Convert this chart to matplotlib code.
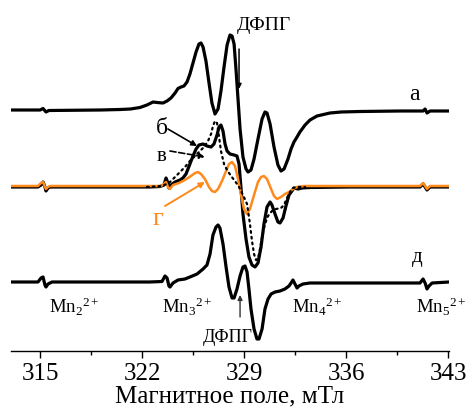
import matplotlib
matplotlib.use("Agg")
import matplotlib.pyplot as plt

plt.rcParams["font.family"] = ["Liberation Serif", "DejaVu Serif"]
plt.rcParams["mathtext.fontset"] = "custom"
plt.rcParams["mathtext.rm"] = "Liberation Serif"
plt.rcParams["mathtext.it"] = "Liberation Serif:italic"

# EPR spectra: magnetic field (mT) and derivative signal (arb. units, 1 unit = 1 px)
field_a = [313.0, 315.0, 315.2, 315.4, 315.6, 319.1, 320.5, 321.2, 321.85, 322.33,
           322.75, 323.02, 323.43, 323.71, 323.98, 324.26, 324.46, 324.67, 324.87, 325.08,
           325.28, 325.49, 325.70, 325.90, 326.04, 326.18, 326.38, 326.59, 326.79, 327.00,
           327.21, 327.41, 327.62, 327.83, 328.03, 328.17, 328.31, 328.44, 328.58, 328.72,
           328.92, 329.13, 329.27, 329.47, 329.68, 329.95, 330.23, 330.43, 330.57, 330.78,
           331.05, 331.32, 331.53, 331.74, 332.01, 332.22, 332.42, 332.63, 332.83, 333.18,
           333.52, 334.00, 334.89, 335.65, 336.96, 339.70, 341.28, 341.42, 341.55, 341.76,
           343.06]
signal_a = [0, 0, 1.5, -2, -0.5, 0, 0.5, 1, 2.5, 5,
            8, 7.5, 7, 9, 12, 17, 21.5, 23, 24, 28,
            36, 47, 58, 66, 67, 63, 49, 27, 7, -4,
            1, 19, 43, 65, 75, 74, 66, 41, 11, -19,
            -47, -59, -62, -60, -49, -29, -9, -2, -3, -14,
            -37, -55, -61, -59, -49, -39, -32, -27, -22, -15,
            -10, -6, -3, -2, -1.5, -1, -1, 1, -3, -1,
            -1]

curve_b = [(313.0, 0), (314.85, 0), (315.06, 2), (315.2, 5), (315.33, 0), (315.4, -4),
           (315.54, -1), (315.68, 0), (319.1, 0), (322.5, 0), (323.23, 0.5), (323.5, 2),
           (323.64, 9), (323.77, 4), (323.84, -1), (323.98, 2), (324.26, 5), (324.6, 7),
           (324.8, 9), (325.01, 13), (325.28, 23), (325.49, 31), (325.7, 38), (325.9, 42),
           (326.18, 43), (326.45, 41), (326.73, 40), (326.93, 43), (327.14, 52), (327.28, 60),
           (327.41, 62), (327.55, 56), (327.69, 43), (327.83, 36), (328.03, 33), (328.31, 32),
           (328.51, 31), (328.65, 23), (328.79, -2), (328.92, -27), (329.13, -52), (329.33, -70),
           (329.54, -78), (329.75, -80), (329.95, -76), (330.16, -60), (330.36, -37), (330.57, -20),
           (330.78, -15), (330.91, -18), (331.12, -27), (331.32, -35), (331.46, -36), (331.67, -31),
           (331.87, -19), (332.08, -8), (332.28, -4), (332.42, -1), (332.7, -2), (332.97, -1),
           (333.52, -0.5), (336.27, 0), (341.07, 0), (341.28, 3), (341.42, 0), (341.55, -3),
           (341.76, 0), (343.06, 0)]

curve_v = [(322.33, 0), (323.36, 1), (323.84, 4), (324.26, 10), (324.6, 15), (324.94, 20),
           (325.28, 26), (325.63, 31), (325.97, 36), (326.25, 40), (326.52, 46), (326.73, 53),
           (326.86, 61), (327.0, 66), (327.14, 64), (327.28, 50), (327.41, 36), (327.62, 23),
           (327.83, 17), (328.1, 11), (328.37, 6), (328.65, 0), (328.92, -8), (329.2, -17),
           (329.4, -37), (329.54, -54), (329.68, -67), (329.81, -73), (329.95, -72), (330.09, -62),
           (330.23, -50), (330.43, -37), (330.64, -29), (330.91, -24), (331.19, -22), (331.53, -21),
           (331.74, -18), (331.94, -11), (332.15, -5), (332.35, -1), (332.63, 0), (333.18, 0)]

curve_g = [(313.0, 0), (314.85, 0), (315.06, 3), (315.2, 4), (315.33, -1), (315.4, -3),
           (315.54, -1), (315.68, 0), (319.1, 0), (322.5, 0), (323.3, 0), (323.5, 2),
           (323.64, 4), (323.77, -1), (323.91, -3), (324.12, 1), (324.53, 3), (324.94, 6),
           (325.35, 10), (325.63, 13), (325.83, 14), (326.04, 12), (326.31, 7), (326.59, -1),
           (326.79, -5), (327.0, -6), (327.21, -3), (327.48, 5), (327.76, 15), (327.96, 22),
           (328.17, 24), (328.37, 20), (328.58, 7), (328.79, -9), (328.99, -23), (329.2, -28),
           (329.4, -23), (329.68, -9), (329.95, 4), (330.16, 9), (330.36, 10), (330.57, 7),
           (330.85, -3), (331.05, -10), (331.26, -13), (331.53, -11), (331.8, -8), (332.08, -6),
           (332.35, -3), (332.63, -1), (333.11, 0), (336.2, 0), (341.07, 0), (341.28, 3),
           (341.42, 0), (341.55, -3), (341.76, 0), (343.06, 0)]

curve_d = [(313.0, 0), (314.85, 0), (315.06, 4), (315.2, 5), (315.33, -3), (315.4, -5),
           (315.54, -2), (315.81, 0), (319.1, 0), (322.5, 0), (323.36, 0.5), (323.57, 6),
           (323.71, 4), (323.84, -4), (323.91, -5), (324.12, -1), (324.46, 2), (324.94, 3),
           (325.28, 5), (325.77, 8), (326.18, 13), (326.45, 17), (326.66, 28), (326.86, 47),
           (327.07, 55), (327.21, 57), (327.34, 54), (327.55, 38), (327.76, 15), (327.96, -5),
           (328.17, -16), (328.31, -16), (328.51, -7), (328.72, 6), (328.92, 15), (329.06, 16),
           (329.2, 10), (329.33, -7), (329.47, -27), (329.68, -47), (329.88, -57), (330.02, -57),
           (330.23, -47), (330.43, -27), (330.64, -17), (330.85, -12), (331.12, -10), (331.46, -9),
           (331.8, -7), (332.08, -4), (332.22, -1), (332.35, 2), (332.49, -2), (332.63, -6),
           (332.76, -4), (333.04, -2), (333.52, -1), (336.27, -1), (341.07, -1), (341.28, 3),
           (341.42, -1), (341.55, -7), (341.69, -4), (341.9, -1), (343.06, 0)]

# vertical offsets of the stacked spectra
offset_a = -111
offset_b = -188
offset_g = -187
offset_d = -283

field_ticks = [315, 322, 329, 336, 343]
mn_lines = ["2", "3", "4", "5"]
mn_label_x = [315.6, 323.36, 332.28, 340.8]
orange = "#FF8A1C"

fig = plt.figure(figsize=(4.68, 4.14), dpi=100)
ax = fig.add_axes([11 / 468, 62 / 414, 438 / 468, 352 / 414])
ax.set_xlim(313.0, 343.06)
ax.set_ylim(-352, 0)


def unpack(pairs):
    return [p[0] for p in pairs], [p[1] for p in pairs]


ax.plot(field_a, [v + offset_a for v in signal_a], color="black", lw=2.3,
        solid_joinstyle="round", solid_capstyle="round")
xb, yb = unpack(curve_b)
ax.plot(xb, [v + offset_b for v in yb], color="black", lw=2.3, solid_joinstyle="round")
xg, yg = unpack(curve_g)
ax.plot(xg, [v + offset_g for v in yg], color=orange, lw=1.8, solid_joinstyle="round")
xv, yv = unpack(curve_v)
ax.plot(xv, [v + offset_b for v in yv], color="black", lw=1.6,
        linestyle=(0, (0.8, 1.8)), dash_capstyle="round")
xd, yd = unpack(curve_d)
ax.plot(xd, [v + offset_d for v in yd], color="black", lw=2.3, solid_joinstyle="round")

# curve labels and leader arrows
ax.text(340.66, -95, "а", fontsize=17, ha="center", va="center")
ax.text(323.36, -128, "б", fontsize=17, ha="center", va="center")
ax.text(323.36, -157, "в", fontsize=15, ha="center", va="center")
ax.text(323.09, -219, "г", fontsize=19, ha="center", va="center", color=orange)
ax.text(340.86, -258, "д", fontsize=15, ha="center", va="center")

ax.annotate("", xy=(325.77, -147), xytext=(323.77, -130),
            arrowprops=dict(arrowstyle="-|>", color="black", lw=1.2,
                            mutation_scale=8, shrinkA=0, shrinkB=0))
ax.annotate("", xy=(326.31, -158), xytext=(323.91, -152),
            arrowprops=dict(arrowstyle="-|>", color="black", lw=1.2, linestyle="--",
                            mutation_scale=8, shrinkA=0, shrinkB=0))
ax.annotate("", xy=(326.31, -183), xytext=(323.57, -207),
            arrowprops=dict(arrowstyle="-|>", color=orange, lw=1.4,
                            mutation_scale=8, shrinkA=0, shrinkB=0))

# DPPH markers
ax.text(330.36, -25, "ДФПГ", fontsize=14, ha="center", va="center")
ax.annotate("", xy=(328.65, -90), xytext=(328.65, -50),
            arrowprops=dict(arrowstyle="-|>", color="black", lw=1.1,
                            mutation_scale=7, shrinkA=0, shrinkB=0))
ax.text(327.89, -338, "ДФПГ", fontsize=13, ha="center", va="center", zorder=0)
ax.annotate("", xy=(328.72, -296), xytext=(328.72, -318),
            arrowprops=dict(arrowstyle="-|>", color="#333333", lw=1.0,
                            mutation_scale=7, shrinkA=0, shrinkB=0))

# Mn2+ reference lines
for xpos, idx in zip(mn_label_x, mn_lines):
    ax.text(xpos, -313, "Mn$_{" + idx + "}{}^{2+}$", fontsize=13.5,
            ha="left", va="baseline")

for side in ("left", "right", "top"):
    ax.spines[side].set_visible(False)
ax.spines["bottom"].set_linewidth(1.0)
ax.set_yticks([])
ax.set_xticks(field_ticks)
ax.set_xticklabels([str(t) for t in field_ticks], fontsize=18)
ax.set_xticks([318.5, 325.5, 332.5, 339.5], minor=True)
ax.tick_params(axis="x", which="major", direction="out", length=5, width=1, pad=3)
ax.tick_params(axis="x", which="minor", direction="out", length=3, width=1)
ax.set_xlabel("Магнитное поле, мТл", fontsize=18, labelpad=0)

fig.savefig("out.png", dpi=100)
